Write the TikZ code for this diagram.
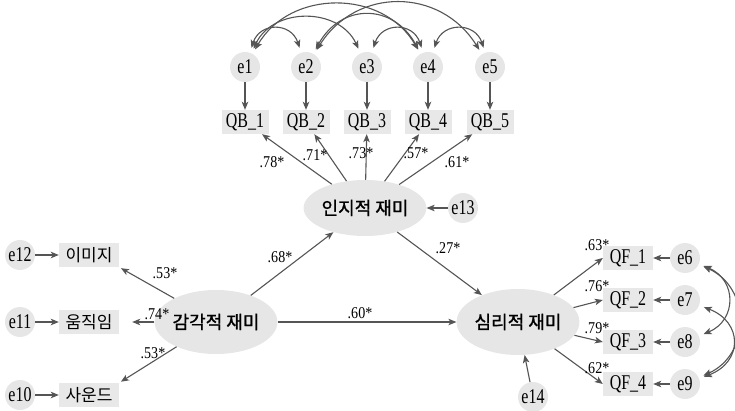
\documentclass[tikz,border=0pt]{standalone}
\usepackage{fontspec}
\setmainfont{Liberation Serif}[FakeStretch=0.76]
\newfontfamily\coeffont{Liberation Serif}[FakeStretch=0.85]
\newfontfamily\kr{Noto Sans CJK KR}
\newfontfamily\krb{Noto Sans CJK KR}[FakeBold=1.2]
\usetikzlibrary{shapes.geometric,arrows.meta}
\definecolor{fillgray}{HTML}{E6E6E6}
\definecolor{boxgray}{HTML}{E8E8E8}
\definecolor{linegray}{HTML}{555555}
\begin{document}
\begin{tikzpicture}[x=1pt,y=-1pt,
  err/.style={circle,fill=fillgray,minimum size=30pt,inner sep=0pt,font=\fontsize{21}{21}\selectfont},
  ind/.style={rectangle,fill=boxgray,minimum width=47pt,minimum height=24pt,inner sep=0pt,font=\fontsize{21}{21}\selectfont},
  kind/.style={rectangle,fill=boxgray,minimum width=60pt,minimum height=24pt,inner sep=0pt,font=\kr\fontsize{17}{17}\selectfont},
  lat/.style={ellipse,fill=fillgray,minimum width=94pt,minimum height=60pt,inner sep=0pt,font=\krb\fontsize{18}{18}\selectfont},
  arr/.style={draw=linegray,line width=1.1pt,-{Stealth[length=8pt,width=6.5pt,inset=2pt]}},
  cov/.style={draw=linegray,line width=1.1pt,{Stealth[length=8pt,width=6.5pt,inset=2pt]}-{Stealth[length=8pt,width=6.5pt,inset=2pt]},shorten <=5pt,shorten >=5pt},
  coef/.style={inner sep=0pt,font=\coeffont\fontsize{16.5}{16.5}\selectfont}]
\useasboundingbox (0,0) rectangle (735,411);
% top errors and indicators
\foreach \i/\x in {1/245,2/306,3/367,4/428,5/490}{
  \node[err] (e\i) at (\x,67) {e\i};
  \node[ind] (qb\i) at (\x,122) {QB\_\i};
  \draw[arr] (e\i) -- (qb\i);
}
% latent variables
\node[lat,minimum width=94pt,minimum height=56pt] (cog) at (365,208) {인지적 재미};
\node[lat,minimum width=96pt,minimum height=64pt] (sen) at (216,322) {감각적 재미};
\node[lat,minimum width=92pt,minimum height=66pt] (psy) at (518,322) {심리적 재미};
\node[err] (e13) at (463,208) {e13};
\node[err] (e14) at (533,397) {e14};
% left indicators
\node[kind] (img) at (89,255) {이미지};
\node[kind] (mov) at (89,322) {움직임};
\node[kind] (snd) at (89,395) {사운드};
\node[err] (e12) at (20,255) {e12};
\node[err] (e11) at (20,322) {e11};
\node[err] (e10) at (20,395) {e10};
% right indicators
\foreach \i/\y/\e in {1/258/6,2/300/7,3/342/8,4/384/9}{
  \node[ind,minimum width=50pt] (qf\i) at (628,\y) {QF\_\i};
  \node[err] (e\e) at (685,\y) {e\e};
  \draw[arr] (e\e) -- (qf\i);
}
% paths
\foreach \i in {1,...,5}{\draw[arr] (cog) -- (qb\i);}
\draw[arr] (e13) -- (cog);
\draw[arr] (e14) -- (psy);
\draw[arr] (sen) -- (cog);
\draw[arr] (cog) -- (psy);
\draw[arr] (sen) -- (psy);
\draw[arr,shorten >=2pt] (sen) -- (img.south east);
\draw[arr,shorten >=13pt] (sen) -- (mov);
\draw[arr,shorten >=2pt] (sen) -- (snd.north east);
\draw[arr] (e12) -- (img);
\draw[arr] (e11) -- (mov);
\draw[arr] (e10) -- (snd);
\foreach \i in {1,...,4}{\draw[arr] (psy) -- (qf\i.west);}
% covariances top
\draw[cov] (e1) .. controls +(15,-45) and +(-15,-45) .. (e2);
\draw[cov] (e1) .. controls +(28,-60) and +(-28,-60) .. (e3);
\draw[cov] (e1) .. controls +(45,-78) and +(-45,-78) .. (e4);
\draw[cov] (e2) .. controls +(35,-64) and +(-35,-64) .. (e4);
\draw[cov] (e2) .. controls +(50,-80) and +(-50,-80) .. (e5);
\draw[cov] (e3) .. controls +(15,-45) and +(-15,-45) .. (e4);
\draw[cov] (e4) .. controls +(15,-45) and +(-15,-45) .. (e5);
% covariances right
\draw[cov] (e6) .. controls +(52,22) and +(52,-22) .. (e8);
\draw[cov] (e6) .. controls +(66,30) and +(66,-30) .. (e9);
\draw[cov] (e7) .. controls +(58,22) and +(58,-22) .. (e9);
% coefficients
\node[coef] (c1) at (272,162) {.78*};
\node[coef] (c2) at (315,155) {.71*};
\node[coef] (c3) at (361,153) {.73*};
\node[coef] (c4) at (416,153) {.57*};
\node[coef] (c5) at (457,162) {.61*};
\node[coef] (c6) at (280,257) {.68*};
\node[coef] (c7) at (448,248) {.27*};
\node[coef] (c8) at (360,313) {.60*};
\node[coef] (c9) at (165,273) {.53*};
\node[coef] (c10) at (157,314) {.74*};
\node[coef] (c11) at (153,353) {.53*};
\node[coef] (c12) at (597,245) {.63*};
\node[coef] (c13) at (597,286) {.76*};
\node[coef] (c14) at (597,328) {.79*};
\node[coef] (c15) at (597,368) {.62*};
\end{tikzpicture}
\end{document}
